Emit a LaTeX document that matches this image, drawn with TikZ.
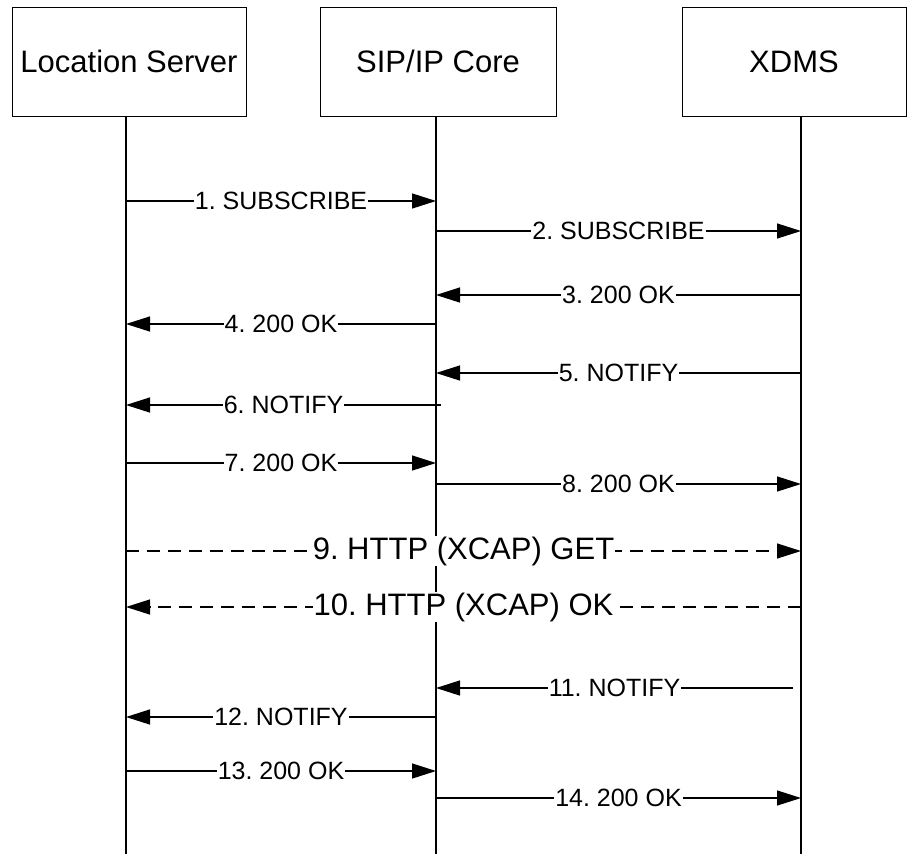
\documentclass[tikz,border=0pt]{standalone}
\usepackage{fontspec}
\setmainfont{Liberation Sans}
\usetikzlibrary{arrows.meta}
\frenchspacing
\begin{document}
\begin{tikzpicture}[x=1pt,y=-1pt,
  entity/.style={draw=black,line width=1pt,minimum height=109pt,inner sep=0pt,font=\fontsize{31}{36}\selectfont},
  life/.style={line width=1.3pt},
  msg/.style={line width=1.3pt,-{Triangle[length=24pt,width=15pt]}},
  dmsg/.style={msg,dash pattern=on 13pt off 8pt},
  lbl/.style={fill=white,inner xsep=1pt,inner ysep=1pt,font=\fontsize{25}{30}\selectfont},
  biglbl/.style={lbl,font=\fontsize{31}{36}\selectfont}]
\useasboundingbox (0,0) rectangle (907,854);
\node[entity,minimum width=234pt] (LS) at (129,61.5) {Location Server};
\node[entity,minimum width=236pt] (SIP) at (438,61.5) {SIP/IP Core};
\node[entity,minimum width=224pt] (XD) at (794,61.5) {XDMS};
% lifeline ends
\coordinate (LSt) at (126,116); \coordinate (LSb) at (126,854);
\coordinate (SIPt) at (436,116); \coordinate (SIPb) at (436,854);
\coordinate (XDt) at (801,116); \coordinate (XDb) at (801,854);
\draw[life] (LSt) -- (LSb);
\draw[life] (SIPt) -- (SIPb);
\draw[life] (XDt) -- (XDb);
% message endpoints
\foreach \n/\y in {1/201,2/231,3/295,4/324,5/373,6/405,7/463,8/484,9/551,10/607,11/688,12/717,13/771,14/798}{
  \coordinate (a\n) at (126,\y);
  \coordinate (b\n) at (436,\y);
  \coordinate (c\n) at (801,\y);
}
\coordinate (b6s) at (441,405);
\coordinate (c11s) at (793,688);
\draw[msg] (a1) -- node[lbl] {1. SUBSCRIBE} (b1);
\draw[msg] (b2) -- node[lbl] {2. SUBSCRIBE} (c2);
\draw[msg] (c3) -- node[lbl] {3. 200 OK} (b3);
\draw[msg] (b4) -- node[lbl] {4. 200 OK} (a4);
\draw[msg] (c5) -- node[lbl] {5. NOTIFY} (b5);
\draw[msg] (b6s) -- node[lbl] {6. NOTIFY} (a6);
\draw[msg] (a7) -- node[lbl] {7. 200 OK} (b7);
\draw[msg] (b8) -- node[lbl] {8. 200 OK} (c8);
\draw[dmsg] (a9) -- node[biglbl] {9. HTTP (XCAP) GET} (c9);
\draw[dmsg] (c10) -- node[biglbl] {10. HTTP (XCAP) OK} (a10);
\draw[msg] (c11s) -- node[lbl] {11. NOTIFY} (b11);
\draw[msg] (b12) -- node[lbl] {12. NOTIFY} (a12);
\draw[msg] (a13) -- node[lbl] {13. 200 OK} (b13);
\draw[msg] (b14) -- node[lbl] {14. 200 OK} (c14);
\end{tikzpicture}
\end{document}
